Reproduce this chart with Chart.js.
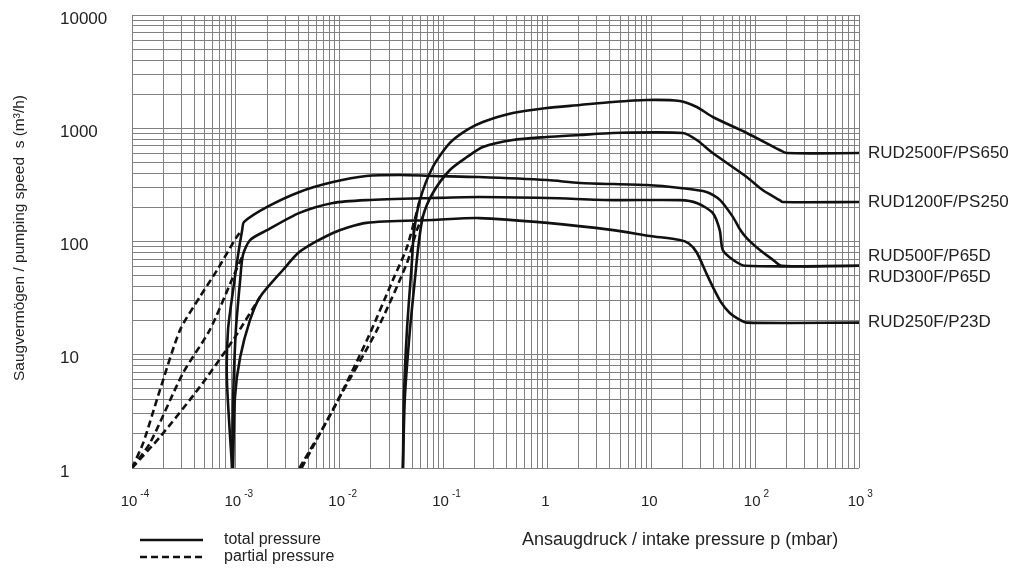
<!DOCTYPE html>
<html>
<head>
<meta charset="utf-8">
<title>Saugvermögen RUD</title>
<script src="https://cdn.jsdelivr.net/npm/chart.js@4"></script>
<style>
  body { margin: 0; background: #fff; }
  #wrap { width: 1021px; height: 568px; }
</style>
</head>
<body>
<div id="wrap"><canvas id="chart" width="1021" height="568"></canvas></div>
<script>
// axis decades and their labels
const xDecades = [1e-4, 1e-3, 1e-2, 1e-1, 1, 10, 100, 1000];
const xTickBase = ['10', '10', '10', '10', '1', '10', '10', '10'];
const xTickExp = ['-4', '-3', '-2', '-1', '', '', '2', '3'];
const yDecades = [1, 10, 100, 1000, 10000];
const yTickLabels = ['1', '10', '100', '1000', '10000'];

const pumpNames = ['RUD2500F/PS650', 'RUD1200F/PS250', 'RUD500F/P65D', 'RUD300F/P65D', 'RUD250F/P23D'];

// total pressure curves, [p (mbar), s (m3/h)]
const rud2500Total = [
  [0.0406, 1], [0.0415, 4.2], [0.0444, 16.5], [0.0495, 65], [0.0518, 119], [0.0591, 232],
  [0.0788, 455], [0.115, 741], [0.168, 966], [0.239, 1136], [0.464, 1364], [0.986, 1510],
  [2.05, 1604], [4.26, 1706], [9.05, 1778], [18.8, 1741], [27.4, 1541], [39.1, 1257],
  [83, 908], [172, 643], [201, 604], [1000, 604]
];
const rud1200Total = [
  [0.0406, 1], [0.0424, 4.2], [0.0474, 16.5], [0.0529, 45.7], [0.0566, 84], [0.0631, 165],
  [0.0788, 268], [0.115, 428], [0.168, 557], [0.239, 683], [0.464, 788], [0.986, 837],
  [2.05, 872], [4.26, 908], [20.1, 908], [27.4, 788], [39.1, 604], [83, 371], [118, 285],
  [172, 232], [184, 223], [1000, 223]
];
const rud500Total = [
  [9.2e-4, 1], [8.2e-4, 6], [8.4e-4, 16.5], [9.4e-4, 37], [1.05e-3, 76], [1.15e-3, 126],
  [1.2e-3, 149], [2.0e-3, 202], [4.1e-3, 274], [8.6e-3, 335], [0.018, 379], [0.038, 387],
  [0.079, 379], [0.22, 371], [1.0, 349], [2.05, 329], [9.0, 315], [19, 297], [34, 274],
  [46, 232], [61, 165], [71, 129], [83, 107], [111, 84], [148, 69], [180, 61], [1000, 61]
];
const rud300Total = [
  [9.2e-4, 1], [9.4e-4, 4], [1.0e-3, 16.5], [1.1e-3, 45.7], [1.17e-3, 76], [1.37e-3, 103],
  [2.0e-3, 126], [4.1e-3, 179], [8.6e-3, 219], [0.018, 232], [0.079, 242], [0.22, 247],
  [1.0, 242], [4.3, 232], [19, 232], [27.4, 219], [39, 179], [45.6, 126], [48.8, 84],
  [61, 69], [80, 61], [1000, 61]
];
const rud250Total = [
  [9.4e-4, 1], [9.8e-4, 4.2], [1.1e-3, 9.5], [1.37e-3, 20.3], [1.71e-3, 32.4], [2.84e-3, 56],
  [4.1e-3, 81], [8.6e-3, 119], [0.018, 146], [0.079, 155], [0.22, 161], [1.0, 146],
  [4.3, 126], [9.7, 112], [18.8, 103], [23, 96], [27.4, 80], [34, 52], [39, 40], [47, 29],
  [57, 23.4], [70, 20.5], [83, 19.2], [1000, 19.2]
];

// partial pressure curves
const rud2500Partial = [[4.1e-3, 1], [8.6e-3, 3.25], [0.0183, 13.5], [0.0325, 45.7], [0.0444, 89], [0.0591, 232]];
const rud1200Partial = [[4.3e-3, 1], [0.01, 4.24], [0.0228, 16.5], [0.0444, 64.6], [0.0553, 126], [0.0631, 165]];
const rud500Partial = [[1e-4, 1], [1.28e-4, 1.66], [1.86e-4, 4.9], [2.9e-4, 16.5], [4.5e-4, 32.4], [6.6e-4, 56], [1.02e-3, 110], [1.15e-3, 126]];
const rud300Partial = [[1e-4, 1], [1.49e-4, 1.66], [3.1e-4, 6.9], [5.6e-4, 16.5], [9.4e-4, 48.6], [1.17e-3, 76]];
const rud250Partial = [[1e-4, 1], [1.86e-4, 1.88], [4.5e-4, 5.2], [9.4e-4, 13.5], [1.71e-3, 32.4]];

const totalSets = [rud2500Total, rud1200Total, rud500Total, rud300Total, rud250Total];
const partialSets = [rud2500Partial, rud1200Partial, rud500Partial, rud300Partial, rud250Partial];

// styling
const FONT = '"Liberation Sans", Arial, sans-serif';
const textColor = '#222';
const gridColor = '#808080';
const lineColor = '#111';
const dash = [7, 4];
const labelShift = [0, 0, -9, 12, 0];

function gridTicks(decades) {
  const out = [];
  decades.forEach((d, i) => {
    if (i === decades.length - 1) { out.push({ value: d }); return; }
    for (let k = 1; k < 10; k++) out.push({ value: d * k });
  });
  return out;
}

function toPoints(arr) {
  return arr.map(([p, s]) => ({ x: p, y: s }));
}

const datasets = [];
totalSets.forEach((arr, i) => {
  datasets.push({ label: pumpNames[i], data: toPoints(arr), borderDash: [] });
});
partialSets.forEach((arr, i) => {
  datasets.push({ label: pumpNames[i] + ' partial', data: toPoints(arr), borderDash: dash });
});
datasets.forEach(ds => {
  ds.showLine = true;
  ds.borderColor = lineColor;
  ds.borderWidth = 2.6;
  ds.pointRadius = 0;
  ds.tension = 0.25;
  ds.fill = false;
});

const annotate = {
  id: 'annotate',
  afterDraw(chart) {
    const { ctx, chartArea } = chart;
    const x = chart.scales.x;
    const y = chart.scales.y;
    ctx.save();
    ctx.fillStyle = textColor;
    ctx.textBaseline = 'middle';
    ctx.textAlign = 'left';

    // x tick labels, exponent as superscript
    xDecades.forEach((v, i) => {
      const px = x.getPixelForValue(v);
      ctx.font = '15px ' + FONT;
      const w = ctx.measureText(xTickBase[i]).width;
      const left = px - w / 2 - (xTickExp[i] ? 3 : 2);
      ctx.fillText(xTickBase[i], left, 502);
      if (xTickExp[i]) {
        ctx.font = '10px ' + FONT;
        ctx.fillText(xTickExp[i], left + w + 3, 494);
      }
    });

    // pump names at the right end of the total pressure curves
    ctx.font = '17px ' + FONT;
    totalSets.forEach((arr, i) => {
      const last = arr[arr.length - 1];
      ctx.fillText(pumpNames[i], chartArea.right + 9, y.getPixelForValue(last[1]) + labelShift[i]);
    });

    // legend
    ctx.strokeStyle = lineColor;
    ctx.lineWidth = 2.6;
    ctx.beginPath();
    ctx.moveTo(140, 540); ctx.lineTo(203, 540);
    ctx.stroke();
    ctx.setLineDash(dash);
    ctx.beginPath();
    ctx.moveTo(140, 557); ctx.lineTo(203, 557);
    ctx.stroke();
    ctx.setLineDash([]);
    ctx.font = '16px ' + FONT;
    ctx.fillText('total pressure', 224, 540);
    ctx.fillText('partial pressure', 224, 557);

    // axis titles
    ctx.font = '18px ' + FONT;
    ctx.fillText('Ansaugdruck / intake pressure p (mbar)', 522, 540);
    ctx.translate(20, 238);
    ctx.rotate(-Math.PI / 2);
    ctx.textAlign = 'center';
    ctx.font = '15.5px ' + FONT;
    ctx.fillText('Saugvermögen / pumping speed  s (m³/h)', 0, 0);
    ctx.restore();
  }
};

new Chart(document.getElementById('chart'), {
  type: 'scatter',
  data: { datasets },
  options: {
    responsive: false,
    animation: false,
    devicePixelRatio: 1,
    layout: { padding: { left: 60, right: 162, top: 15, bottom: 0 } },
    plugins: { legend: { display: false }, tooltip: { enabled: false } },
    scales: {
      x: {
        type: 'logarithmic',
        min: 1e-4,
        max: 1000,
        afterBuildTicks: s => { s.ticks = gridTicks(xDecades); },
        afterFit: s => { s.height = 100; },
        ticks: { display: false, autoSkip: false },
        grid: { color: gridColor, lineWidth: 1, drawTicks: false },
        border: { display: false }
      },
      y: {
        type: 'logarithmic',
        min: 1,
        max: 10000,
        afterBuildTicks: s => { s.ticks = gridTicks(yDecades); },
        afterFit: s => { s.width = 72; },
        ticks: {
          autoSkip: false,
          crossAlign: 'far',
          labelOffset: 4,
          color: textColor,
          font: { family: FONT, size: 17 },
          callback: v => {
            const i = yDecades.indexOf(v);
            return i >= 0 ? yTickLabels[i] : '';
          }
        },
        grid: { color: gridColor, lineWidth: 1, drawTicks: false },
        border: { display: false }
      }
    }
  },
  plugins: [annotate]
});
</script>
</body>
</html>
